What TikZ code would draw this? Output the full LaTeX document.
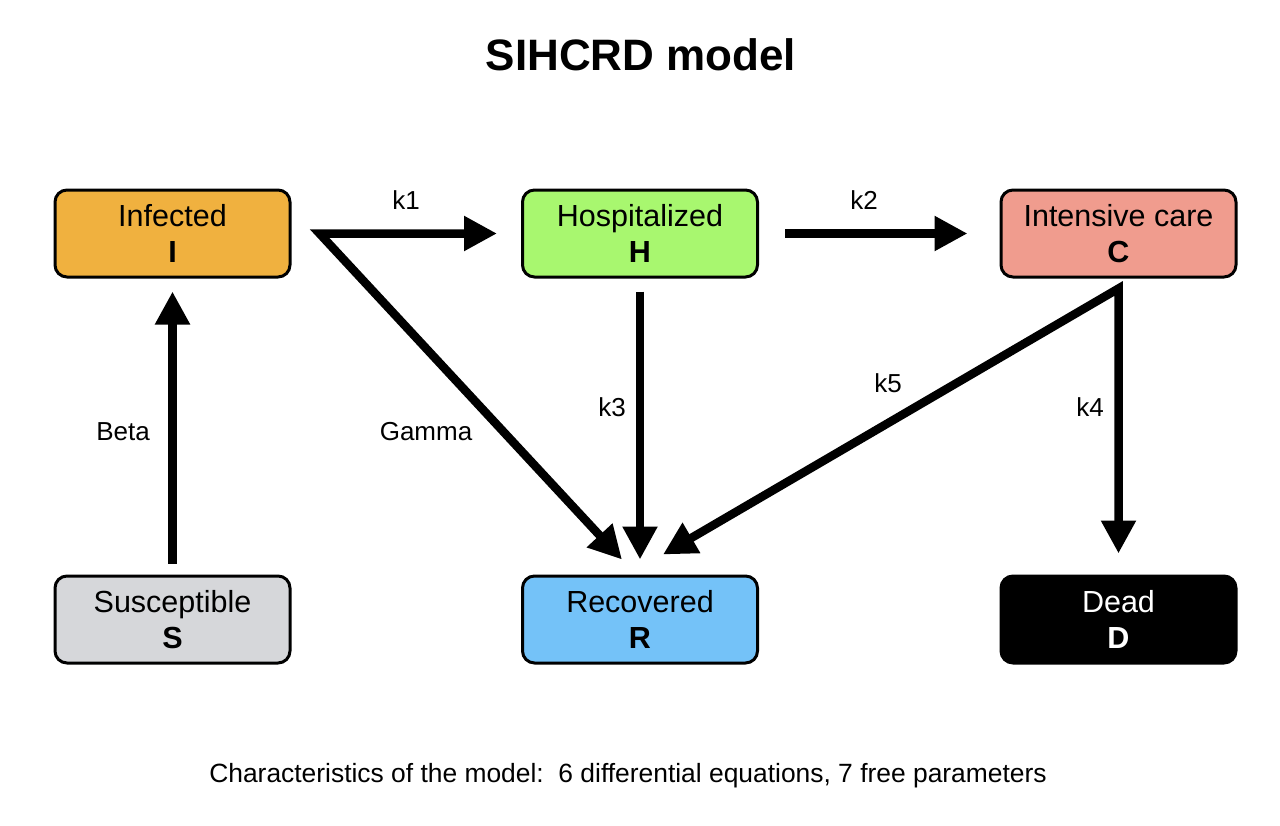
\documentclass[tikz,border=0pt]{standalone}
\usepackage{fontspec}
\setmainfont{Liberation Sans}
\usetikzlibrary{arrows.meta,calc}
\definecolor{cI}{HTML}{F0B13F}
\definecolor{cH}{HTML}{A8F76F}
\definecolor{cC}{HTML}{F09C8E}
\definecolor{cS}{HTML}{D6D7DA}
\definecolor{cR}{HTML}{74C2F8}
\tikzset{
  box/.style={draw=black, line width=3pt, rounded corners=12pt, minimum width=235pt, minimum height=87pt, align=center, inner sep=0pt, font=\fontsize{30.5}{36}\selectfont},
  flow/.style={line width=8.5pt, -{Triangle[length=33pt,width=33pt]}},
  flow2/.style={line width=8.5pt, {Triangle[length=33pt,width=33pt]}-{Triangle[length=33pt,width=33pt]}, line join=miter},
  lab/.style={font=\fontsize{26}{30}\selectfont}
}
\begin{document}
\begin{tikzpicture}[x=1pt,y=-1pt]
\useasboundingbox (0,0) rectangle (1280,825);
\node[font=\fontsize{44}{50}\selectfont\bfseries] (title) at (641,55) {SIHCRD model};
\node[box, fill=cI] (I) at (172.5,233.5) {Infected\\\textbf{I}};
\node[box, fill=cH] (H) at (640,233.5) {Hospitalized\\\textbf{H}};
\node[box, fill=cC] (C) at (1118.5,233.5) {Intensive care\\\textbf{C}};
\node[box, fill=cS] (S) at (172.5,619.5) {Susceptible\\\textbf{S}};
\node[box, fill=cR] (R) at (640,619.5) {Recovered\\\textbf{R}};
\node[box, fill=black, text=white] (D) at (1118.5,619.5) {Dead\\\textbf{D}};

\coordinate (cI) at ($(I.east)+(28,0)$);
\coordinate (cC) at ($(C.south)+(0,10)$);
\draw[flow2] ($(H.west)+(-24,0)$) -- (cI) -- ($(R.north)+(-18,-15)$);
\draw[flow2] ($(R.north)+(23,-20)$) -- (cC) -- ($(D.north)+(0,-21)$);
\draw[flow] ($(H.east)+(26,0)$) -- ($(C.west)+(-32,0)$);
\draw[flow] ($(H.south)+(0,13)$) -- ($(R.north)+(0,-15)$);
\draw[flow] ($(S.north)+(0,-11)$) -- ($(I.south)+(0,13)$);

\node[lab] (lk1) at (406,200) {k1};
\node[lab] (lk2) at (864,200) {k2};
\node[lab] (lk3) at (612,407) {k3};
\node[lab] (lk5) at (888,383) {k5};
\node[lab] (lk4) at (1090,407) {k4};
\node[lab] (lbeta) at (123,432) {Beta};
\node[lab] (lgamma) at (426,432) {Gamma};

\node[font=\fontsize{26.4}{30}\selectfont] (foot) at (628,776) {Characteristics of the model:\ \ 6 differential equations, 7 free parameters};
\end{tikzpicture}
\end{document}
